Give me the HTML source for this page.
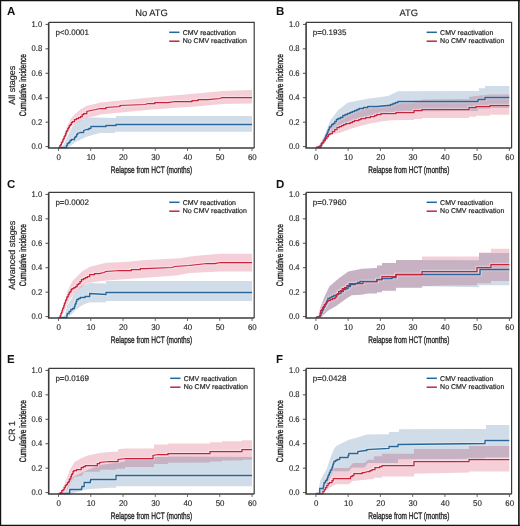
<!DOCTYPE html><html><head><meta charset="utf-8"><style>html,body{margin:0;padding:0;background:#fff}svg{display:block}text{font-family:"Liberation Sans",sans-serif;text-rendering:geometricPrecision}</style></head><body>
<svg width="520" height="526" viewBox="0 0 520 526">
<rect x="0" y="0" width="520" height="526" fill="#fff"/>
<g style="isolation:isolate">
<polygon points="62.0,147.3 65.0,142.0 67.5,136.3 72.5,126.3 78.8,121.3 87.5,117.5 96.0,117.6 116.0,118.0 116.0,116.0 252.0,116.0 252.0,131.7 115.0,131.7 115.0,133.0 100.0,133.0 90.9,135.5 85.8,137.1 79.6,140.1 74.5,142.7 69.3,147.0 67.0,147.3" fill="#d0dce7" style="mix-blend-mode:multiply"/>
<polygon points="59.5,147.3 62.2,139.1 66.3,127.8 70.4,119.6 74.5,114.5 80.6,109.3 86.8,105.8 96.0,103.7 100.0,102.5 150.0,97.5 202.0,93.0 222.0,91.0 252.0,90.0 252.0,103.5 222.0,104.0 202.0,106.0 152.0,109.5 100.0,114.5 96.0,116.0 89.9,117.0 83.7,119.1 76.5,123.2 71.4,126.8 66.3,137.1 61.1,147.3" fill="#f4cfd7" style="mix-blend-mode:multiply"/>
</g>
<polyline points="58.5,147.5 65.8,147.5 66.5,147.5 66.5,145.5 67.3,145.5 67.3,143.5 68.7,143.5 68.7,142.5 70.0,142.5 70.0,140.5 71.4,140.5 71.4,139.5 74.5,139.5 74.5,137.5 75.5,137.5 75.5,136.5 76.6,136.5 76.6,134.5 77.6,134.5 77.6,133.5 80.6,132.5 83.7,132.5 83.7,130.5 86.8,129.5 88.8,129.5 88.8,128.5 90.9,128.5 90.9,126.5 106.0,126.5 106.0,125.5 116.0,125.5 116.0,124.5 252.0,124.5" fill="none" stroke="#fff" stroke-opacity="0.3" stroke-width="3.6"/>
<polyline points="58.5,147.5 59.1,147.5 59.9,147.5 59.9,145.5 60.7,145.5 60.7,144.5 61.4,144.5 61.4,142.5 62.2,142.5 62.2,141.5 62.9,141.5 62.9,139.5 63.6,139.5 63.6,138.5 64.2,138.5 64.2,136.5 64.9,136.5 64.9,135.5 65.6,135.5 65.6,133.5 66.3,133.5 66.3,131.5 67.0,131.5 67.0,130.5 67.8,130.5 67.8,128.5 68.5,128.5 68.5,127.5 69.3,127.5 69.3,125.5 70.3,125.5 70.3,124.5 71.4,124.5 71.4,122.5 72.4,122.5 72.4,121.5 74.5,121.5 74.5,119.5 76.5,119.5 76.5,118.5 78.5,118.5 78.5,117.5 80.6,117.5 80.6,116.5 82.2,116.5 82.2,114.5 83.7,114.5 83.7,113.5 86.8,113.5 86.8,111.5 90.9,110.5 96.0,109.5 100.0,108.5 106.0,108.5 106.0,107.5 120.0,106.5 120.0,105.5 145.0,104.5 148.0,103.5 150.2,103.5 150.2,103.5 152.5,103.5 152.5,103.5 154.8,103.5 154.8,102.5 157.0,102.5 157.0,102.5 168.0,102.5 175.0,101.5 190.0,101.5 192.0,101.5 192.0,100.5 194.0,100.5 194.0,100.5 196.0,100.5 196.0,100.5 198.0,100.5 198.0,99.5 200.0,99.5 200.0,99.5 208.0,99.5 220.0,98.5 222.0,97.5 252.0,97.5" fill="none" stroke="#fff" stroke-opacity="0.3" stroke-width="3.6"/>
<polyline points="58.5,147.5 65.8,147.5 66.5,147.5 66.5,145.5 67.3,145.5 67.3,143.5 68.7,143.5 68.7,142.5 70.0,142.5 70.0,140.5 71.4,140.5 71.4,139.5 74.5,139.5 74.5,137.5 75.5,137.5 75.5,136.5 76.6,136.5 76.6,134.5 77.6,134.5 77.6,133.5 80.6,132.5 83.7,132.5 83.7,130.5 86.8,129.5 88.8,129.5 88.8,128.5 90.9,128.5 90.9,126.5 106.0,126.5 106.0,125.5 116.0,125.5 116.0,124.5 252.0,124.5" fill="none" stroke="#26669a" stroke-width="1.3" stroke-linejoin="miter"/>
<polyline points="58.5,147.5 59.1,147.5 59.9,147.5 59.9,145.5 60.7,145.5 60.7,144.5 61.4,144.5 61.4,142.5 62.2,142.5 62.2,141.5 62.9,141.5 62.9,139.5 63.6,139.5 63.6,138.5 64.2,138.5 64.2,136.5 64.9,136.5 64.9,135.5 65.6,135.5 65.6,133.5 66.3,133.5 66.3,131.5 67.0,131.5 67.0,130.5 67.8,130.5 67.8,128.5 68.5,128.5 68.5,127.5 69.3,127.5 69.3,125.5 70.3,125.5 70.3,124.5 71.4,124.5 71.4,122.5 72.4,122.5 72.4,121.5 74.5,121.5 74.5,119.5 76.5,119.5 76.5,118.5 78.5,118.5 78.5,117.5 80.6,117.5 80.6,116.5 82.2,116.5 82.2,114.5 83.7,114.5 83.7,113.5 86.8,113.5 86.8,111.5 90.9,110.5 96.0,109.5 100.0,108.5 106.0,108.5 106.0,107.5 120.0,106.5 120.0,105.5 145.0,104.5 148.0,103.5 150.2,103.5 150.2,103.5 152.5,103.5 152.5,103.5 154.8,103.5 154.8,102.5 157.0,102.5 157.0,102.5 168.0,102.5 175.0,101.5 190.0,101.5 192.0,101.5 192.0,100.5 194.0,100.5 194.0,100.5 196.0,100.5 196.0,100.5 198.0,100.5 198.0,99.5 200.0,99.5 200.0,99.5 208.0,99.5 220.0,98.5 222.0,97.5 252.0,97.5" fill="none" stroke="#c8233b" stroke-width="1.25" stroke-linejoin="miter"/>
<path d="M48.70 22.40 V148.00 H254.20" fill="none" stroke="#3c3c3c" stroke-width="1.6"/>
<path d="M48.70 22.40 H254.20 V148.00" fill="none" stroke="#3c3c3c" stroke-width="1.2"/>
<line x1="45.50" y1="146.60" x2="48.50" y2="146.60" stroke="#3c3c3c" stroke-width="0.9"/>
<text transform="translate(42.20 149.10) scale(0.92 1)" font-size="8.3" fill="#262626" stroke="#333" stroke-width="0.15" text-anchor="end">0.0</text>
<line x1="45.50" y1="122.16" x2="48.50" y2="122.16" stroke="#3c3c3c" stroke-width="0.9"/>
<text transform="translate(42.20 124.66) scale(0.92 1)" font-size="8.3" fill="#262626" stroke="#333" stroke-width="0.15" text-anchor="end">0.2</text>
<line x1="45.50" y1="97.72" x2="48.50" y2="97.72" stroke="#3c3c3c" stroke-width="0.9"/>
<text transform="translate(42.20 100.22) scale(0.92 1)" font-size="8.3" fill="#262626" stroke="#333" stroke-width="0.15" text-anchor="end">0.4</text>
<line x1="45.50" y1="73.28" x2="48.50" y2="73.28" stroke="#3c3c3c" stroke-width="0.9"/>
<text transform="translate(42.20 75.78) scale(0.92 1)" font-size="8.3" fill="#262626" stroke="#333" stroke-width="0.15" text-anchor="end">0.6</text>
<line x1="45.50" y1="48.84" x2="48.50" y2="48.84" stroke="#3c3c3c" stroke-width="0.9"/>
<text transform="translate(42.20 51.34) scale(0.92 1)" font-size="8.3" fill="#262626" stroke="#333" stroke-width="0.15" text-anchor="end">0.8</text>
<line x1="45.50" y1="24.40" x2="48.50" y2="24.40" stroke="#3c3c3c" stroke-width="0.9"/>
<text transform="translate(42.20 26.90) scale(0.92 1)" font-size="8.3" fill="#262626" stroke="#333" stroke-width="0.15" text-anchor="end">1.0</text>
<line x1="58.50" y1="148.50" x2="58.50" y2="150.90" stroke="#3c3c3c" stroke-width="0.8"/>
<text transform="translate(58.80 159.90) scale(0.95 1)" font-size="8.3" fill="#262626" stroke="#333" stroke-width="0.15" text-anchor="middle">0</text>
<line x1="90.75" y1="148.50" x2="90.75" y2="150.90" stroke="#3c3c3c" stroke-width="0.8"/>
<text transform="translate(91.05 159.90) scale(0.95 1)" font-size="8.3" fill="#262626" stroke="#333" stroke-width="0.15" text-anchor="middle">10</text>
<line x1="123.00" y1="148.50" x2="123.00" y2="150.90" stroke="#3c3c3c" stroke-width="0.8"/>
<text transform="translate(123.30 159.90) scale(0.95 1)" font-size="8.3" fill="#262626" stroke="#333" stroke-width="0.15" text-anchor="middle">20</text>
<line x1="155.25" y1="148.50" x2="155.25" y2="150.90" stroke="#3c3c3c" stroke-width="0.8"/>
<text transform="translate(155.55 159.90) scale(0.95 1)" font-size="8.3" fill="#262626" stroke="#333" stroke-width="0.15" text-anchor="middle">30</text>
<line x1="187.50" y1="148.50" x2="187.50" y2="150.90" stroke="#3c3c3c" stroke-width="0.8"/>
<text transform="translate(187.80 159.90) scale(0.95 1)" font-size="8.3" fill="#262626" stroke="#333" stroke-width="0.15" text-anchor="middle">40</text>
<line x1="219.75" y1="148.50" x2="219.75" y2="150.90" stroke="#3c3c3c" stroke-width="0.8"/>
<text transform="translate(220.05 159.90) scale(0.95 1)" font-size="8.3" fill="#262626" stroke="#333" stroke-width="0.15" text-anchor="middle">50</text>
<line x1="252.00" y1="148.50" x2="252.00" y2="150.90" stroke="#3c3c3c" stroke-width="0.8"/>
<text transform="translate(252.30 159.90) scale(0.95 1)" font-size="8.3" fill="#262626" stroke="#333" stroke-width="0.15" text-anchor="middle">60</text>
<text transform="translate(151.45 173.30) scale(0.685 1)" font-size="9.5" fill="#262626" stroke="#222" stroke-width="0.35" text-anchor="middle">Relapse from HCT (months)</text>
<text transform="translate(26.30 85.20) rotate(-90) scale(0.69 1)" font-size="9.5" fill="#262626" stroke="#222" stroke-width="0.35" text-anchor="middle">Cumulative incidence</text>
<text transform="translate(15.20 85.20) rotate(-90)" font-size="9" fill="#262626" stroke="#333" stroke-width="0.2" text-anchor="middle">All stages</text>
<text x="6.90" y="15.00" font-size="11.5" font-weight="bold" fill="#111">A</text>
<text x="55.40" y="34.90" font-size="8" fill="#262626" stroke="#222" stroke-width="0.15">p<0.0001</text>
<line x1="169.20" y1="32.30" x2="179.50" y2="32.30" stroke="#26669a" stroke-width="1.5"/>
<line x1="169.20" y1="41.20" x2="179.50" y2="41.20" stroke="#c8233b" stroke-width="1.5"/>
<text x="182.70" y="34.50" font-size="7" fill="#262626" stroke="#222" stroke-width="0.2">CMV reactivation</text>
<text x="182.70" y="43.40" font-size="7" fill="#262626" stroke="#222" stroke-width="0.2">No CMV reactivation</text>
<g style="isolation:isolate">
<polygon points="319.0,147.3 324.3,135.5 330.0,121.0 338.0,110.2 347.5,102.8 357.0,100.8 367.7,98.7 377.0,97.4 388.0,96.0 398.0,91.3 479.0,91.0 479.0,88.3 485.0,88.3 485.0,86.0 509.3,86.0 509.3,108.0 490.0,108.0 490.0,108.8 478.0,108.8 478.0,111.0 406.0,111.5 381.0,113.0 370.4,116.0 361.0,118.0 350.2,121.5 339.4,126.0 330.0,133.0 326.3,137.0 322.0,147.3" fill="#d0dce7" style="mix-blend-mode:multiply"/>
<polygon points="317.0,147.3 322.0,140.5 330.0,127.0 339.4,116.9 350.2,112.2 361.0,108.8 370.4,107.5 383.8,104.8 400.0,102.8 415.0,102.5 415.0,100.5 422.0,100.5 422.0,99.5 456.0,99.0 469.0,99.0 469.0,97.0 478.0,95.8 490.0,94.5 509.3,94.5 509.3,114.7 490.0,114.7 490.0,115.7 476.0,115.7 476.0,116.8 469.0,116.8 469.0,118.0 422.0,118.0 422.0,119.0 414.0,119.0 414.0,120.0 390.6,120.3 381.0,121.6 370.4,123.6 361.0,125.7 350.2,129.0 339.4,133.0 330.0,135.0 325.3,142.0 320.2,147.3" fill="#f4cfd7" style="mix-blend-mode:multiply"/>
</g>
<polyline points="315.8,147.5 320.0,147.5 320.9,147.5 320.9,145.5 321.7,145.5 321.7,143.5 322.6,143.5 322.6,142.5 323.4,142.5 323.4,140.5 324.3,140.5 324.3,139.5 325.1,139.5 325.1,137.5 325.8,137.5 325.8,135.5 326.6,135.5 326.6,134.5 327.3,134.5 327.3,132.5 328.0,132.5 328.0,130.5 328.6,130.5 328.6,129.5 329.3,129.5 329.3,127.5 330.0,127.5 330.0,126.5 331.6,126.5 331.6,124.5 333.2,124.5 333.2,123.5 334.8,123.5 334.8,121.5 336.4,121.5 336.4,119.5 338.0,119.5 338.0,118.5 340.4,118.5 340.4,117.5 342.8,117.5 342.8,115.5 345.1,115.5 345.1,114.5 347.5,114.5 347.5,113.5 349.9,113.5 349.9,112.5 352.2,112.5 352.2,111.5 354.6,111.5 354.6,110.5 357.0,110.5 357.0,109.5 359.1,109.5 359.1,108.5 361.3,108.5 361.3,108.5 363.4,108.5 363.4,107.5 365.6,107.5 365.6,107.5 367.7,107.5 367.7,106.5 377.0,106.5 388.0,105.5 390.5,105.5 390.5,104.5 393.0,104.5 393.0,103.5 395.5,103.5 395.5,102.5 398.0,102.5 398.0,101.5 478.0,101.5 478.0,99.5 485.0,99.5 485.0,97.5 509.3,97.5" fill="none" stroke="#fff" stroke-opacity="0.3" stroke-width="3.6"/>
<polyline points="315.8,147.5 319.1,146.5 320.1,146.5 320.1,145.5 321.2,145.5 321.2,143.5 322.2,143.5 322.2,142.5 323.8,142.5 323.8,140.5 325.3,140.5 325.3,138.5 326.9,138.5 326.9,136.5 328.4,136.5 328.4,134.5 330.0,134.5 330.0,133.5 332.4,133.5 332.4,131.5 334.7,131.5 334.7,129.5 337.0,129.5 337.0,127.5 339.4,127.5 339.4,126.5 341.6,126.5 341.6,125.5 343.7,125.5 343.7,124.5 345.9,124.5 345.9,123.5 348.0,123.5 348.0,123.5 350.2,123.5 350.2,122.5 352.4,122.5 352.4,121.5 354.5,121.5 354.5,120.5 356.7,120.5 356.7,120.5 358.8,120.5 358.8,119.5 361.0,119.5 361.0,118.5 363.4,118.5 363.4,118.5 365.7,118.5 365.7,117.5 368.0,117.5 368.0,117.5 370.4,117.5 370.4,116.5 372.5,116.5 372.5,116.5 374.6,116.5 374.6,115.5 376.8,115.5 376.8,114.5 378.9,114.5 378.9,114.5 381.0,114.5 381.0,113.5 396.0,113.5 396.0,112.5 414.0,112.5 414.0,110.5 422.0,110.5 422.0,109.5 469.0,109.5 469.0,107.5 476.0,107.5 476.0,106.5 490.0,106.5 490.0,105.5 509.3,105.5" fill="none" stroke="#fff" stroke-opacity="0.3" stroke-width="3.6"/>
<polyline points="315.8,147.5 320.0,147.5 320.9,147.5 320.9,145.5 321.7,145.5 321.7,143.5 322.6,143.5 322.6,142.5 323.4,142.5 323.4,140.5 324.3,140.5 324.3,139.5 325.1,139.5 325.1,137.5 325.8,137.5 325.8,135.5 326.6,135.5 326.6,134.5 327.3,134.5 327.3,132.5 328.0,132.5 328.0,130.5 328.6,130.5 328.6,129.5 329.3,129.5 329.3,127.5 330.0,127.5 330.0,126.5 331.6,126.5 331.6,124.5 333.2,124.5 333.2,123.5 334.8,123.5 334.8,121.5 336.4,121.5 336.4,119.5 338.0,119.5 338.0,118.5 340.4,118.5 340.4,117.5 342.8,117.5 342.8,115.5 345.1,115.5 345.1,114.5 347.5,114.5 347.5,113.5 349.9,113.5 349.9,112.5 352.2,112.5 352.2,111.5 354.6,111.5 354.6,110.5 357.0,110.5 357.0,109.5 359.1,109.5 359.1,108.5 361.3,108.5 361.3,108.5 363.4,108.5 363.4,107.5 365.6,107.5 365.6,107.5 367.7,107.5 367.7,106.5 377.0,106.5 388.0,105.5 390.5,105.5 390.5,104.5 393.0,104.5 393.0,103.5 395.5,103.5 395.5,102.5 398.0,102.5 398.0,101.5 478.0,101.5 478.0,99.5 485.0,99.5 485.0,97.5 509.3,97.5" fill="none" stroke="#26669a" stroke-width="1.3" stroke-linejoin="miter"/>
<polyline points="315.8,147.5 319.1,146.5 320.1,146.5 320.1,145.5 321.2,145.5 321.2,143.5 322.2,143.5 322.2,142.5 323.8,142.5 323.8,140.5 325.3,140.5 325.3,138.5 326.9,138.5 326.9,136.5 328.4,136.5 328.4,134.5 330.0,134.5 330.0,133.5 332.4,133.5 332.4,131.5 334.7,131.5 334.7,129.5 337.0,129.5 337.0,127.5 339.4,127.5 339.4,126.5 341.6,126.5 341.6,125.5 343.7,125.5 343.7,124.5 345.9,124.5 345.9,123.5 348.0,123.5 348.0,123.5 350.2,123.5 350.2,122.5 352.4,122.5 352.4,121.5 354.5,121.5 354.5,120.5 356.7,120.5 356.7,120.5 358.8,120.5 358.8,119.5 361.0,119.5 361.0,118.5 363.4,118.5 363.4,118.5 365.7,118.5 365.7,117.5 368.0,117.5 368.0,117.5 370.4,117.5 370.4,116.5 372.5,116.5 372.5,116.5 374.6,116.5 374.6,115.5 376.8,115.5 376.8,114.5 378.9,114.5 378.9,114.5 381.0,114.5 381.0,113.5 396.0,113.5 396.0,112.5 414.0,112.5 414.0,110.5 422.0,110.5 422.0,109.5 469.0,109.5 469.0,107.5 476.0,107.5 476.0,106.5 490.0,106.5 490.0,105.5 509.3,105.5" fill="none" stroke="#c8233b" stroke-width="1.25" stroke-linejoin="miter"/>
<path d="M306.10 22.40 V148.00 H511.60" fill="none" stroke="#3c3c3c" stroke-width="1.6"/>
<path d="M306.10 22.40 H511.60 V148.00" fill="none" stroke="#3c3c3c" stroke-width="1.2"/>
<line x1="302.90" y1="146.60" x2="305.90" y2="146.60" stroke="#3c3c3c" stroke-width="0.9"/>
<text transform="translate(299.60 149.10) scale(0.92 1)" font-size="8.3" fill="#262626" stroke="#333" stroke-width="0.15" text-anchor="end">0.0</text>
<line x1="302.90" y1="122.16" x2="305.90" y2="122.16" stroke="#3c3c3c" stroke-width="0.9"/>
<text transform="translate(299.60 124.66) scale(0.92 1)" font-size="8.3" fill="#262626" stroke="#333" stroke-width="0.15" text-anchor="end">0.2</text>
<line x1="302.90" y1="97.72" x2="305.90" y2="97.72" stroke="#3c3c3c" stroke-width="0.9"/>
<text transform="translate(299.60 100.22) scale(0.92 1)" font-size="8.3" fill="#262626" stroke="#333" stroke-width="0.15" text-anchor="end">0.4</text>
<line x1="302.90" y1="73.28" x2="305.90" y2="73.28" stroke="#3c3c3c" stroke-width="0.9"/>
<text transform="translate(299.60 75.78) scale(0.92 1)" font-size="8.3" fill="#262626" stroke="#333" stroke-width="0.15" text-anchor="end">0.6</text>
<line x1="302.90" y1="48.84" x2="305.90" y2="48.84" stroke="#3c3c3c" stroke-width="0.9"/>
<text transform="translate(299.60 51.34) scale(0.92 1)" font-size="8.3" fill="#262626" stroke="#333" stroke-width="0.15" text-anchor="end">0.8</text>
<line x1="302.90" y1="24.40" x2="305.90" y2="24.40" stroke="#3c3c3c" stroke-width="0.9"/>
<text transform="translate(299.60 26.90) scale(0.92 1)" font-size="8.3" fill="#262626" stroke="#333" stroke-width="0.15" text-anchor="end">1.0</text>
<line x1="315.90" y1="148.50" x2="315.90" y2="150.90" stroke="#3c3c3c" stroke-width="0.8"/>
<text transform="translate(316.20 159.90) scale(0.95 1)" font-size="8.3" fill="#262626" stroke="#333" stroke-width="0.15" text-anchor="middle">0</text>
<line x1="348.15" y1="148.50" x2="348.15" y2="150.90" stroke="#3c3c3c" stroke-width="0.8"/>
<text transform="translate(348.45 159.90) scale(0.95 1)" font-size="8.3" fill="#262626" stroke="#333" stroke-width="0.15" text-anchor="middle">10</text>
<line x1="380.40" y1="148.50" x2="380.40" y2="150.90" stroke="#3c3c3c" stroke-width="0.8"/>
<text transform="translate(380.70 159.90) scale(0.95 1)" font-size="8.3" fill="#262626" stroke="#333" stroke-width="0.15" text-anchor="middle">20</text>
<line x1="412.65" y1="148.50" x2="412.65" y2="150.90" stroke="#3c3c3c" stroke-width="0.8"/>
<text transform="translate(412.95 159.90) scale(0.95 1)" font-size="8.3" fill="#262626" stroke="#333" stroke-width="0.15" text-anchor="middle">30</text>
<line x1="444.90" y1="148.50" x2="444.90" y2="150.90" stroke="#3c3c3c" stroke-width="0.8"/>
<text transform="translate(445.20 159.90) scale(0.95 1)" font-size="8.3" fill="#262626" stroke="#333" stroke-width="0.15" text-anchor="middle">40</text>
<line x1="477.15" y1="148.50" x2="477.15" y2="150.90" stroke="#3c3c3c" stroke-width="0.8"/>
<text transform="translate(477.45 159.90) scale(0.95 1)" font-size="8.3" fill="#262626" stroke="#333" stroke-width="0.15" text-anchor="middle">50</text>
<line x1="509.40" y1="148.50" x2="509.40" y2="150.90" stroke="#3c3c3c" stroke-width="0.8"/>
<text transform="translate(509.70 159.90) scale(0.95 1)" font-size="8.3" fill="#262626" stroke="#333" stroke-width="0.15" text-anchor="middle">60</text>
<text transform="translate(408.85 173.30) scale(0.685 1)" font-size="9.5" fill="#262626" stroke="#222" stroke-width="0.35" text-anchor="middle">Relapse from HCT (months)</text>
<text transform="translate(282.70 85.20) rotate(-90) scale(0.69 1)" font-size="9.5" fill="#262626" stroke="#222" stroke-width="0.35" text-anchor="middle">Cumulative incidence</text>
<text x="276.00" y="15.00" font-size="11.5" font-weight="bold" fill="#111">B</text>
<text x="312.80" y="34.90" font-size="8" fill="#262626" stroke="#222" stroke-width="0.15">p=0.1935</text>
<line x1="426.60" y1="32.30" x2="436.90" y2="32.30" stroke="#26669a" stroke-width="1.5"/>
<line x1="426.60" y1="41.20" x2="436.90" y2="41.20" stroke="#c8233b" stroke-width="1.5"/>
<text x="440.10" y="34.50" font-size="7" fill="#262626" stroke="#222" stroke-width="0.2">CMV reactivation</text>
<text x="440.10" y="43.40" font-size="7" fill="#262626" stroke="#222" stroke-width="0.2">No CMV reactivation</text>
<g style="isolation:isolate">
<polygon points="64.0,317.3 67.3,305.5 75.6,291.4 81.5,286.0 89.7,282.9 106.0,283.5 106.0,281.0 252.0,281.0 252.0,301.0 106.0,301.0 106.0,302.2 88.6,302.6 81.5,305.5 75.6,310.2 69.7,316.1 68.0,317.3" fill="#d0dce7" style="mix-blend-mode:multiply"/>
<polygon points="62.0,317.3 67.1,291.7 72.5,281.0 81.9,271.5 90.0,266.8 106.1,262.8 125.0,262.1 145.0,260.0 180.0,258.2 190.0,256.6 205.0,255.0 220.0,253.8 252.0,253.8 252.0,271.5 220.0,271.5 190.0,273.0 176.0,275.4 145.0,277.7 104.0,280.8 87.4,283.1 76.8,290.2 69.7,299.6 63.8,312.6 61.5,317.3" fill="#f4cfd7" style="mix-blend-mode:multiply"/>
</g>
<polyline points="58.5,317.5 66.7,317.5 66.9,317.5 66.9,315.5 67.1,315.5 67.1,314.5 67.3,314.5 67.3,313.5 69.1,313.5 69.1,311.5 70.8,311.5 70.8,309.5 72.6,309.5 72.6,308.5 74.4,308.5 74.4,306.5 75.0,306.5 75.0,304.5 75.6,304.5 75.6,303.5 76.2,303.5 76.2,301.5 76.8,301.5 76.8,299.5 78.5,299.5 78.5,298.5 80.3,298.5 80.3,297.5 82.7,297.5 82.7,297.5 85.0,297.5 85.0,296.5 87.4,296.5 87.4,296.5 89.7,296.5 89.7,293.5 106.0,294.5 106.0,292.5 252.0,292.5" fill="none" stroke="#fff" stroke-opacity="0.3" stroke-width="3.6"/>
<polyline points="58.5,317.5 59.7,317.5 60.3,317.5 60.3,315.5 60.9,315.5 60.9,313.5 61.5,313.5 61.5,312.5 62.0,312.5 62.0,310.5 62.6,310.5 62.6,308.5 63.2,308.5 63.2,307.5 63.8,307.5 63.8,305.5 64.4,305.5 64.4,303.5 65.0,303.5 65.0,302.5 65.5,302.5 65.5,300.5 66.1,300.5 66.1,299.5 66.7,299.5 66.7,297.5 67.3,297.5 67.3,296.5 68.2,296.5 68.2,294.5 69.2,294.5 69.2,292.5 70.1,292.5 70.1,291.5 71.1,291.5 71.1,289.5 72.0,289.5 72.0,288.5 73.8,288.5 73.8,287.5 75.6,287.5 75.6,286.5 77.1,286.5 77.1,284.5 78.5,284.5 78.5,283.5 80.0,283.5 80.0,281.5 81.5,281.5 81.5,279.5 83.5,279.5 83.5,278.5 85.4,278.5 85.4,277.5 87.4,277.5 87.4,276.5 89.7,276.5 89.7,274.5 92.1,274.5 92.1,274.5 94.5,274.5 94.5,273.5 96.8,273.5 96.8,273.5 99.2,273.5 99.2,273.5 104.0,272.5 106.0,271.5 120.0,270.5 129.0,270.5 131.3,270.5 131.3,269.5 133.6,269.5 133.6,269.5 135.9,269.5 135.9,269.5 138.1,269.5 138.1,269.5 140.4,269.5 140.4,268.5 142.7,268.5 142.7,268.5 145.0,268.5 145.0,268.5 172.0,267.5 175.0,266.5 189.0,265.5 198.0,264.5 207.0,263.5 215.0,263.5 220.0,262.5 252.0,262.5" fill="none" stroke="#fff" stroke-opacity="0.3" stroke-width="3.6"/>
<polyline points="58.5,317.5 66.7,317.5 66.9,317.5 66.9,315.5 67.1,315.5 67.1,314.5 67.3,314.5 67.3,313.5 69.1,313.5 69.1,311.5 70.8,311.5 70.8,309.5 72.6,309.5 72.6,308.5 74.4,308.5 74.4,306.5 75.0,306.5 75.0,304.5 75.6,304.5 75.6,303.5 76.2,303.5 76.2,301.5 76.8,301.5 76.8,299.5 78.5,299.5 78.5,298.5 80.3,298.5 80.3,297.5 82.7,297.5 82.7,297.5 85.0,297.5 85.0,296.5 87.4,296.5 87.4,296.5 89.7,296.5 89.7,293.5 106.0,294.5 106.0,292.5 252.0,292.5" fill="none" stroke="#26669a" stroke-width="1.3" stroke-linejoin="miter"/>
<polyline points="58.5,317.5 59.7,317.5 60.3,317.5 60.3,315.5 60.9,315.5 60.9,313.5 61.5,313.5 61.5,312.5 62.0,312.5 62.0,310.5 62.6,310.5 62.6,308.5 63.2,308.5 63.2,307.5 63.8,307.5 63.8,305.5 64.4,305.5 64.4,303.5 65.0,303.5 65.0,302.5 65.5,302.5 65.5,300.5 66.1,300.5 66.1,299.5 66.7,299.5 66.7,297.5 67.3,297.5 67.3,296.5 68.2,296.5 68.2,294.5 69.2,294.5 69.2,292.5 70.1,292.5 70.1,291.5 71.1,291.5 71.1,289.5 72.0,289.5 72.0,288.5 73.8,288.5 73.8,287.5 75.6,287.5 75.6,286.5 77.1,286.5 77.1,284.5 78.5,284.5 78.5,283.5 80.0,283.5 80.0,281.5 81.5,281.5 81.5,279.5 83.5,279.5 83.5,278.5 85.4,278.5 85.4,277.5 87.4,277.5 87.4,276.5 89.7,276.5 89.7,274.5 92.1,274.5 92.1,274.5 94.5,274.5 94.5,273.5 96.8,273.5 96.8,273.5 99.2,273.5 99.2,273.5 104.0,272.5 106.0,271.5 120.0,270.5 129.0,270.5 131.3,270.5 131.3,269.5 133.6,269.5 133.6,269.5 135.9,269.5 135.9,269.5 138.1,269.5 138.1,269.5 140.4,269.5 140.4,268.5 142.7,268.5 142.7,268.5 145.0,268.5 145.0,268.5 172.0,267.5 175.0,266.5 189.0,265.5 198.0,264.5 207.0,263.5 215.0,263.5 220.0,262.5 252.0,262.5" fill="none" stroke="#c8233b" stroke-width="1.25" stroke-linejoin="miter"/>
<path d="M48.70 192.40 V318.00 H254.20" fill="none" stroke="#3c3c3c" stroke-width="1.6"/>
<path d="M48.70 192.40 H254.20 V318.00" fill="none" stroke="#3c3c3c" stroke-width="1.2"/>
<line x1="45.50" y1="316.60" x2="48.50" y2="316.60" stroke="#3c3c3c" stroke-width="0.9"/>
<text transform="translate(42.20 319.10) scale(0.92 1)" font-size="8.3" fill="#262626" stroke="#333" stroke-width="0.15" text-anchor="end">0.0</text>
<line x1="45.50" y1="292.16" x2="48.50" y2="292.16" stroke="#3c3c3c" stroke-width="0.9"/>
<text transform="translate(42.20 294.66) scale(0.92 1)" font-size="8.3" fill="#262626" stroke="#333" stroke-width="0.15" text-anchor="end">0.2</text>
<line x1="45.50" y1="267.72" x2="48.50" y2="267.72" stroke="#3c3c3c" stroke-width="0.9"/>
<text transform="translate(42.20 270.22) scale(0.92 1)" font-size="8.3" fill="#262626" stroke="#333" stroke-width="0.15" text-anchor="end">0.4</text>
<line x1="45.50" y1="243.28" x2="48.50" y2="243.28" stroke="#3c3c3c" stroke-width="0.9"/>
<text transform="translate(42.20 245.78) scale(0.92 1)" font-size="8.3" fill="#262626" stroke="#333" stroke-width="0.15" text-anchor="end">0.6</text>
<line x1="45.50" y1="218.84" x2="48.50" y2="218.84" stroke="#3c3c3c" stroke-width="0.9"/>
<text transform="translate(42.20 221.34) scale(0.92 1)" font-size="8.3" fill="#262626" stroke="#333" stroke-width="0.15" text-anchor="end">0.8</text>
<line x1="45.50" y1="194.40" x2="48.50" y2="194.40" stroke="#3c3c3c" stroke-width="0.9"/>
<text transform="translate(42.20 196.90) scale(0.92 1)" font-size="8.3" fill="#262626" stroke="#333" stroke-width="0.15" text-anchor="end">1.0</text>
<line x1="58.50" y1="318.50" x2="58.50" y2="320.90" stroke="#3c3c3c" stroke-width="0.8"/>
<text transform="translate(58.80 329.90) scale(0.95 1)" font-size="8.3" fill="#262626" stroke="#333" stroke-width="0.15" text-anchor="middle">0</text>
<line x1="90.75" y1="318.50" x2="90.75" y2="320.90" stroke="#3c3c3c" stroke-width="0.8"/>
<text transform="translate(91.05 329.90) scale(0.95 1)" font-size="8.3" fill="#262626" stroke="#333" stroke-width="0.15" text-anchor="middle">10</text>
<line x1="123.00" y1="318.50" x2="123.00" y2="320.90" stroke="#3c3c3c" stroke-width="0.8"/>
<text transform="translate(123.30 329.90) scale(0.95 1)" font-size="8.3" fill="#262626" stroke="#333" stroke-width="0.15" text-anchor="middle">20</text>
<line x1="155.25" y1="318.50" x2="155.25" y2="320.90" stroke="#3c3c3c" stroke-width="0.8"/>
<text transform="translate(155.55 329.90) scale(0.95 1)" font-size="8.3" fill="#262626" stroke="#333" stroke-width="0.15" text-anchor="middle">30</text>
<line x1="187.50" y1="318.50" x2="187.50" y2="320.90" stroke="#3c3c3c" stroke-width="0.8"/>
<text transform="translate(187.80 329.90) scale(0.95 1)" font-size="8.3" fill="#262626" stroke="#333" stroke-width="0.15" text-anchor="middle">40</text>
<line x1="219.75" y1="318.50" x2="219.75" y2="320.90" stroke="#3c3c3c" stroke-width="0.8"/>
<text transform="translate(220.05 329.90) scale(0.95 1)" font-size="8.3" fill="#262626" stroke="#333" stroke-width="0.15" text-anchor="middle">50</text>
<line x1="252.00" y1="318.50" x2="252.00" y2="320.90" stroke="#3c3c3c" stroke-width="0.8"/>
<text transform="translate(252.30 329.90) scale(0.95 1)" font-size="8.3" fill="#262626" stroke="#333" stroke-width="0.15" text-anchor="middle">60</text>
<text transform="translate(151.45 343.30) scale(0.685 1)" font-size="9.5" fill="#262626" stroke="#222" stroke-width="0.35" text-anchor="middle">Relapse from HCT (months)</text>
<text transform="translate(26.30 255.20) rotate(-90) scale(0.69 1)" font-size="9.5" fill="#262626" stroke="#222" stroke-width="0.35" text-anchor="middle">Cumulative incidence</text>
<text transform="translate(15.20 255.20) rotate(-90)" font-size="9" fill="#262626" stroke="#333" stroke-width="0.2" text-anchor="middle">Advanced stages</text>
<text x="6.90" y="188.40" font-size="11.5" font-weight="bold" fill="#111">C</text>
<text x="55.40" y="204.90" font-size="8" fill="#262626" stroke="#222" stroke-width="0.15">p=0.0002</text>
<line x1="169.20" y1="202.30" x2="179.50" y2="202.30" stroke="#26669a" stroke-width="1.5"/>
<line x1="169.20" y1="211.20" x2="179.50" y2="211.20" stroke="#c8233b" stroke-width="1.5"/>
<text x="182.70" y="204.50" font-size="7" fill="#262626" stroke="#222" stroke-width="0.2">CMV reactivation</text>
<text x="182.70" y="213.40" font-size="7" fill="#262626" stroke="#222" stroke-width="0.2">No CMV reactivation</text>
<g style="isolation:isolate">
<polygon points="318.0,317.4 320.0,308.0 325.5,294.4 329.5,286.3 338.9,278.3 348.3,271.5 361.8,268.8 377.0,268.0 377.0,265.4 382.0,265.4 382.0,263.0 396.0,263.0 396.0,260.0 479.0,260.3 479.0,253.1 509.3,253.1 509.3,285.2 479.0,285.2 479.0,287.2 444.0,286.5 422.0,286.2 422.0,287.7 396.0,287.7 396.0,290.8 382.0,290.8 382.0,292.3 377.0,292.3 377.0,293.5 368.0,293.5 361.3,294.7 351.7,295.3 345.8,298.9 336.2,306.0 327.9,310.8 322.0,316.8 320.0,317.4" fill="#d0dce7" style="mix-blend-mode:multiply"/>
<polygon points="318.0,317.4 320.0,308.0 325.5,294.4 329.5,286.3 338.9,278.3 348.3,271.5 361.8,268.8 377.0,268.0 377.0,265.4 382.0,265.4 382.0,263.0 396.0,263.0 396.0,260.0 422.0,260.0 422.0,256.6 479.0,256.6 479.0,252.6 491.0,252.6 491.0,248.8 509.3,248.8 509.3,281.1 491.0,281.1 491.0,283.2 477.0,283.2 477.0,285.2 444.0,285.5 422.0,286.2 422.0,287.7 396.0,287.7 396.0,290.8 382.0,290.8 382.0,292.3 377.0,292.3 377.0,293.5 368.0,293.5 361.3,294.7 351.7,295.3 345.8,298.9 336.2,306.0 327.9,310.8 322.0,316.8 320.0,317.4" fill="#f4cfd7" style="mix-blend-mode:multiply"/>
</g>
<polyline points="315.8,317.5 319.5,316.5 320.2,316.5 320.2,315.5 320.9,315.5 320.9,313.5 321.6,313.5 321.6,312.5 322.2,312.5 322.2,310.5 322.9,310.5 322.9,309.5 323.6,309.5 323.6,307.5 324.3,307.5 324.3,306.5 325.2,306.5 325.2,304.5 326.1,304.5 326.1,302.5 327.0,302.5 327.0,300.5 327.9,300.5 327.9,298.5 329.9,298.5 329.9,297.5 331.8,297.5 331.8,296.5 333.8,296.5 333.8,295.5 336.2,295.5 336.2,294.5 338.6,294.5 338.6,293.5 341.0,293.5 341.0,291.5 343.4,291.5 343.4,289.5 345.8,289.5 345.8,288.5 348.1,288.5 348.1,286.5 350.5,286.5 350.5,284.5 352.9,284.5 355.3,284.5 355.3,283.5 357.6,283.5 357.6,282.5 360.0,282.5 360.0,281.5 377.0,281.5 377.0,279.5 382.0,279.5 382.0,278.5 392.0,278.5 392.0,277.5 396.0,277.5 396.0,274.5 480.0,274.5 480.0,269.5 509.3,269.5" fill="none" stroke="#fff" stroke-opacity="0.3" stroke-width="3.6"/>
<polyline points="315.8,317.5 319.5,316.5 319.8,316.5 319.8,315.5 320.1,315.5 320.1,313.5 320.4,313.5 320.4,312.5 320.7,312.5 320.7,310.5 321.6,310.5 321.6,309.5 322.5,309.5 322.5,307.5 323.4,307.5 323.4,306.5 324.3,306.5 324.3,304.5 325.5,304.5 325.5,303.5 326.7,303.5 326.7,301.5 327.9,301.5 327.9,300.5 330.3,300.5 330.3,299.5 332.6,299.5 332.6,298.5 335.0,298.5 335.0,297.5 335.9,297.5 335.9,296.5 336.8,296.5 336.8,294.5 337.7,294.5 337.7,293.5 338.6,293.5 338.6,291.5 340.4,291.5 340.4,290.5 342.2,290.5 342.2,288.5 344.6,288.5 344.6,287.5 346.9,287.5 346.9,285.5 349.3,285.5 349.3,283.5 362.4,283.5 363.0,283.5 363.0,281.5 377.0,281.5 377.0,279.5 382.0,279.5 382.0,276.5 396.0,276.5 396.0,274.5 422.0,274.5 422.0,271.5 444.0,271.5 477.0,271.5 477.0,267.5 491.0,267.5 491.0,264.5 509.3,264.5" fill="none" stroke="#fff" stroke-opacity="0.3" stroke-width="3.6"/>
<polyline points="315.8,317.5 319.5,316.5 320.2,316.5 320.2,315.5 320.9,315.5 320.9,313.5 321.6,313.5 321.6,312.5 322.2,312.5 322.2,310.5 322.9,310.5 322.9,309.5 323.6,309.5 323.6,307.5 324.3,307.5 324.3,306.5 325.2,306.5 325.2,304.5 326.1,304.5 326.1,302.5 327.0,302.5 327.0,300.5 327.9,300.5 327.9,298.5 329.9,298.5 329.9,297.5 331.8,297.5 331.8,296.5 333.8,296.5 333.8,295.5 336.2,295.5 336.2,294.5 338.6,294.5 338.6,293.5 341.0,293.5 341.0,291.5 343.4,291.5 343.4,289.5 345.8,289.5 345.8,288.5 348.1,288.5 348.1,286.5 350.5,286.5 350.5,284.5 352.9,284.5 355.3,284.5 355.3,283.5 357.6,283.5 357.6,282.5 360.0,282.5 360.0,281.5 377.0,281.5 377.0,279.5 382.0,279.5 382.0,278.5 392.0,278.5 392.0,277.5 396.0,277.5 396.0,274.5 480.0,274.5 480.0,269.5 509.3,269.5" fill="none" stroke="#26669a" stroke-width="1.3" stroke-linejoin="miter"/>
<polyline points="315.8,317.5 319.5,316.5 319.8,316.5 319.8,315.5 320.1,315.5 320.1,313.5 320.4,313.5 320.4,312.5 320.7,312.5 320.7,310.5 321.6,310.5 321.6,309.5 322.5,309.5 322.5,307.5 323.4,307.5 323.4,306.5 324.3,306.5 324.3,304.5 325.5,304.5 325.5,303.5 326.7,303.5 326.7,301.5 327.9,301.5 327.9,300.5 330.3,300.5 330.3,299.5 332.6,299.5 332.6,298.5 335.0,298.5 335.0,297.5 335.9,297.5 335.9,296.5 336.8,296.5 336.8,294.5 337.7,294.5 337.7,293.5 338.6,293.5 338.6,291.5 340.4,291.5 340.4,290.5 342.2,290.5 342.2,288.5 344.6,288.5 344.6,287.5 346.9,287.5 346.9,285.5 349.3,285.5 349.3,283.5 362.4,283.5 363.0,283.5 363.0,281.5 377.0,281.5 377.0,279.5 382.0,279.5 382.0,276.5 396.0,276.5 396.0,274.5 422.0,274.5 422.0,271.5 444.0,271.5 477.0,271.5 477.0,267.5 491.0,267.5 491.0,264.5 509.3,264.5" fill="none" stroke="#c8233b" stroke-width="1.25" stroke-linejoin="miter"/>
<path d="M306.10 192.40 V318.00 H511.60" fill="none" stroke="#3c3c3c" stroke-width="1.6"/>
<path d="M306.10 192.40 H511.60 V318.00" fill="none" stroke="#3c3c3c" stroke-width="1.2"/>
<line x1="302.90" y1="316.60" x2="305.90" y2="316.60" stroke="#3c3c3c" stroke-width="0.9"/>
<text transform="translate(299.60 319.10) scale(0.92 1)" font-size="8.3" fill="#262626" stroke="#333" stroke-width="0.15" text-anchor="end">0.0</text>
<line x1="302.90" y1="292.16" x2="305.90" y2="292.16" stroke="#3c3c3c" stroke-width="0.9"/>
<text transform="translate(299.60 294.66) scale(0.92 1)" font-size="8.3" fill="#262626" stroke="#333" stroke-width="0.15" text-anchor="end">0.2</text>
<line x1="302.90" y1="267.72" x2="305.90" y2="267.72" stroke="#3c3c3c" stroke-width="0.9"/>
<text transform="translate(299.60 270.22) scale(0.92 1)" font-size="8.3" fill="#262626" stroke="#333" stroke-width="0.15" text-anchor="end">0.4</text>
<line x1="302.90" y1="243.28" x2="305.90" y2="243.28" stroke="#3c3c3c" stroke-width="0.9"/>
<text transform="translate(299.60 245.78) scale(0.92 1)" font-size="8.3" fill="#262626" stroke="#333" stroke-width="0.15" text-anchor="end">0.6</text>
<line x1="302.90" y1="218.84" x2="305.90" y2="218.84" stroke="#3c3c3c" stroke-width="0.9"/>
<text transform="translate(299.60 221.34) scale(0.92 1)" font-size="8.3" fill="#262626" stroke="#333" stroke-width="0.15" text-anchor="end">0.8</text>
<line x1="302.90" y1="194.40" x2="305.90" y2="194.40" stroke="#3c3c3c" stroke-width="0.9"/>
<text transform="translate(299.60 196.90) scale(0.92 1)" font-size="8.3" fill="#262626" stroke="#333" stroke-width="0.15" text-anchor="end">1.0</text>
<line x1="315.90" y1="318.50" x2="315.90" y2="320.90" stroke="#3c3c3c" stroke-width="0.8"/>
<text transform="translate(316.20 329.90) scale(0.95 1)" font-size="8.3" fill="#262626" stroke="#333" stroke-width="0.15" text-anchor="middle">0</text>
<line x1="348.15" y1="318.50" x2="348.15" y2="320.90" stroke="#3c3c3c" stroke-width="0.8"/>
<text transform="translate(348.45 329.90) scale(0.95 1)" font-size="8.3" fill="#262626" stroke="#333" stroke-width="0.15" text-anchor="middle">10</text>
<line x1="380.40" y1="318.50" x2="380.40" y2="320.90" stroke="#3c3c3c" stroke-width="0.8"/>
<text transform="translate(380.70 329.90) scale(0.95 1)" font-size="8.3" fill="#262626" stroke="#333" stroke-width="0.15" text-anchor="middle">20</text>
<line x1="412.65" y1="318.50" x2="412.65" y2="320.90" stroke="#3c3c3c" stroke-width="0.8"/>
<text transform="translate(412.95 329.90) scale(0.95 1)" font-size="8.3" fill="#262626" stroke="#333" stroke-width="0.15" text-anchor="middle">30</text>
<line x1="444.90" y1="318.50" x2="444.90" y2="320.90" stroke="#3c3c3c" stroke-width="0.8"/>
<text transform="translate(445.20 329.90) scale(0.95 1)" font-size="8.3" fill="#262626" stroke="#333" stroke-width="0.15" text-anchor="middle">40</text>
<line x1="477.15" y1="318.50" x2="477.15" y2="320.90" stroke="#3c3c3c" stroke-width="0.8"/>
<text transform="translate(477.45 329.90) scale(0.95 1)" font-size="8.3" fill="#262626" stroke="#333" stroke-width="0.15" text-anchor="middle">50</text>
<line x1="509.40" y1="318.50" x2="509.40" y2="320.90" stroke="#3c3c3c" stroke-width="0.8"/>
<text transform="translate(509.70 329.90) scale(0.95 1)" font-size="8.3" fill="#262626" stroke="#333" stroke-width="0.15" text-anchor="middle">60</text>
<text transform="translate(408.85 343.30) scale(0.685 1)" font-size="9.5" fill="#262626" stroke="#222" stroke-width="0.35" text-anchor="middle">Relapse from HCT (months)</text>
<text transform="translate(282.70 255.20) rotate(-90) scale(0.69 1)" font-size="9.5" fill="#262626" stroke="#222" stroke-width="0.35" text-anchor="middle">Cumulative incidence</text>
<text x="276.00" y="188.40" font-size="11.5" font-weight="bold" fill="#111">D</text>
<text x="312.80" y="204.90" font-size="8" fill="#262626" stroke="#222" stroke-width="0.15">p=0.7960</text>
<line x1="426.60" y1="202.30" x2="436.90" y2="202.30" stroke="#26669a" stroke-width="1.5"/>
<line x1="426.60" y1="211.20" x2="436.90" y2="211.20" stroke="#c8233b" stroke-width="1.5"/>
<text x="440.10" y="204.50" font-size="7" fill="#262626" stroke="#222" stroke-width="0.2">CMV reactivation</text>
<text x="440.10" y="213.40" font-size="7" fill="#262626" stroke="#222" stroke-width="0.2">No CMV reactivation</text>
<g style="isolation:isolate">
<polygon points="66.0,493.6 69.9,478.0 75.8,475.8 83.0,472.2 90.0,469.0 100.0,465.0 116.0,462.7 125.0,461.5 125.0,459.2 154.0,459.2 154.0,457.0 168.0,457.0 168.0,456.5 252.0,457.0 252.0,486.2 116.0,486.2 116.0,487.7 110.0,487.7 90.1,488.9 84.2,490.0 80.6,491.2 69.9,493.6 69.0,493.6" fill="#d0dce7" style="mix-blend-mode:multiply"/>
<polygon points="60.0,493.6 63.9,485.3 69.9,469.8 74.6,462.0 81.8,457.9 87.8,455.5 99.7,453.1 109.2,451.9 118.0,451.5 118.0,449.2 125.0,448.5 154.0,448.5 154.0,444.6 168.0,444.6 168.0,443.5 210.0,443.6 210.0,442.2 222.0,442.2 222.0,441.3 242.0,441.3 242.0,440.2 252.0,440.2 252.0,459.7 242.0,459.7 242.0,460.6 222.0,460.6 222.0,461.5 210.0,461.5 210.0,462.4 168.0,462.7 168.0,464.0 154.0,464.0 154.0,466.9 125.0,466.9 125.0,468.8 116.0,468.8 116.0,469.8 100.0,469.8 100.0,471.7 90.0,471.7 84.2,472.0 81.8,475.8 74.6,477.0 69.9,484.1 66.3,492.4 64.0,493.6" fill="#f4cfd7" style="mix-blend-mode:multiply"/>
</g>
<polyline points="58.5,493.5 69.3,493.5 69.5,493.5 69.5,492.5 69.7,492.5 69.7,490.5 69.9,490.5 69.9,489.5 81.2,489.5 81.5,489.5 81.5,488.5 81.8,488.5 81.8,486.5 84.2,486.5 84.2,482.5 90.1,482.5 90.4,482.5 90.4,480.5 90.7,480.5 90.7,479.5 116.0,479.5 116.0,475.5 252.0,475.5" fill="none" stroke="#fff" stroke-opacity="0.3" stroke-width="3.6"/>
<polyline points="58.5,493.5 59.2,493.5 60.5,493.5 60.5,492.5 61.8,492.5 61.8,490.5 63.1,490.5 63.1,489.5 64.2,489.5 64.2,487.5 65.3,487.5 65.3,485.5 66.3,485.5 66.3,484.5 67.4,484.5 67.4,482.5 68.5,482.5 68.5,481.5 69.3,481.5 69.3,479.5 70.0,479.5 70.0,478.5 70.8,478.5 70.8,476.5 71.5,476.5 71.5,474.5 72.3,474.5 72.3,473.5 73.0,473.5 73.0,471.5 73.8,471.5 73.8,470.5 76.5,470.5 76.5,469.5 79.2,469.5 79.2,469.5 81.2,469.5 81.2,467.5 83.3,467.5 83.3,466.5 85.3,466.5 85.3,465.5 94.9,465.5 97.3,465.5 97.3,463.5 99.7,463.5 99.7,462.5 109.2,461.5 118.0,461.5 118.0,459.5 126.0,458.5 153.0,458.5 153.0,455.5 158.0,454.5 168.0,454.5 168.0,453.5 210.0,453.5 210.0,451.5 222.0,451.5 222.0,451.5 242.0,451.5 242.0,449.5 252.0,449.5" fill="none" stroke="#fff" stroke-opacity="0.3" stroke-width="3.6"/>
<polyline points="58.5,493.5 69.3,493.5 69.5,493.5 69.5,492.5 69.7,492.5 69.7,490.5 69.9,490.5 69.9,489.5 81.2,489.5 81.5,489.5 81.5,488.5 81.8,488.5 81.8,486.5 84.2,486.5 84.2,482.5 90.1,482.5 90.4,482.5 90.4,480.5 90.7,480.5 90.7,479.5 116.0,479.5 116.0,475.5 252.0,475.5" fill="none" stroke="#26669a" stroke-width="1.3" stroke-linejoin="miter"/>
<polyline points="58.5,493.5 59.2,493.5 60.5,493.5 60.5,492.5 61.8,492.5 61.8,490.5 63.1,490.5 63.1,489.5 64.2,489.5 64.2,487.5 65.3,487.5 65.3,485.5 66.3,485.5 66.3,484.5 67.4,484.5 67.4,482.5 68.5,482.5 68.5,481.5 69.3,481.5 69.3,479.5 70.0,479.5 70.0,478.5 70.8,478.5 70.8,476.5 71.5,476.5 71.5,474.5 72.3,474.5 72.3,473.5 73.0,473.5 73.0,471.5 73.8,471.5 73.8,470.5 76.5,470.5 76.5,469.5 79.2,469.5 79.2,469.5 81.2,469.5 81.2,467.5 83.3,467.5 83.3,466.5 85.3,466.5 85.3,465.5 94.9,465.5 97.3,465.5 97.3,463.5 99.7,463.5 99.7,462.5 109.2,461.5 118.0,461.5 118.0,459.5 126.0,458.5 153.0,458.5 153.0,455.5 158.0,454.5 168.0,454.5 168.0,453.5 210.0,453.5 210.0,451.5 222.0,451.5 222.0,451.5 242.0,451.5 242.0,449.5 252.0,449.5" fill="none" stroke="#c8233b" stroke-width="1.25" stroke-linejoin="miter"/>
<path d="M48.70 368.40 V494.00 H254.20" fill="none" stroke="#3c3c3c" stroke-width="1.6"/>
<path d="M48.70 368.40 H254.20 V494.00" fill="none" stroke="#3c3c3c" stroke-width="1.2"/>
<line x1="45.50" y1="492.60" x2="48.50" y2="492.60" stroke="#3c3c3c" stroke-width="0.9"/>
<text transform="translate(42.20 495.10) scale(0.92 1)" font-size="8.3" fill="#262626" stroke="#333" stroke-width="0.15" text-anchor="end">0.0</text>
<line x1="45.50" y1="468.16" x2="48.50" y2="468.16" stroke="#3c3c3c" stroke-width="0.9"/>
<text transform="translate(42.20 470.66) scale(0.92 1)" font-size="8.3" fill="#262626" stroke="#333" stroke-width="0.15" text-anchor="end">0.2</text>
<line x1="45.50" y1="443.72" x2="48.50" y2="443.72" stroke="#3c3c3c" stroke-width="0.9"/>
<text transform="translate(42.20 446.22) scale(0.92 1)" font-size="8.3" fill="#262626" stroke="#333" stroke-width="0.15" text-anchor="end">0.4</text>
<line x1="45.50" y1="419.28" x2="48.50" y2="419.28" stroke="#3c3c3c" stroke-width="0.9"/>
<text transform="translate(42.20 421.78) scale(0.92 1)" font-size="8.3" fill="#262626" stroke="#333" stroke-width="0.15" text-anchor="end">0.6</text>
<line x1="45.50" y1="394.84" x2="48.50" y2="394.84" stroke="#3c3c3c" stroke-width="0.9"/>
<text transform="translate(42.20 397.34) scale(0.92 1)" font-size="8.3" fill="#262626" stroke="#333" stroke-width="0.15" text-anchor="end">0.8</text>
<line x1="45.50" y1="370.40" x2="48.50" y2="370.40" stroke="#3c3c3c" stroke-width="0.9"/>
<text transform="translate(42.20 372.90) scale(0.92 1)" font-size="8.3" fill="#262626" stroke="#333" stroke-width="0.15" text-anchor="end">1.0</text>
<line x1="58.50" y1="494.50" x2="58.50" y2="496.90" stroke="#3c3c3c" stroke-width="0.8"/>
<text transform="translate(58.80 505.90) scale(0.95 1)" font-size="8.3" fill="#262626" stroke="#333" stroke-width="0.15" text-anchor="middle">0</text>
<line x1="90.75" y1="494.50" x2="90.75" y2="496.90" stroke="#3c3c3c" stroke-width="0.8"/>
<text transform="translate(91.05 505.90) scale(0.95 1)" font-size="8.3" fill="#262626" stroke="#333" stroke-width="0.15" text-anchor="middle">10</text>
<line x1="123.00" y1="494.50" x2="123.00" y2="496.90" stroke="#3c3c3c" stroke-width="0.8"/>
<text transform="translate(123.30 505.90) scale(0.95 1)" font-size="8.3" fill="#262626" stroke="#333" stroke-width="0.15" text-anchor="middle">20</text>
<line x1="155.25" y1="494.50" x2="155.25" y2="496.90" stroke="#3c3c3c" stroke-width="0.8"/>
<text transform="translate(155.55 505.90) scale(0.95 1)" font-size="8.3" fill="#262626" stroke="#333" stroke-width="0.15" text-anchor="middle">30</text>
<line x1="187.50" y1="494.50" x2="187.50" y2="496.90" stroke="#3c3c3c" stroke-width="0.8"/>
<text transform="translate(187.80 505.90) scale(0.95 1)" font-size="8.3" fill="#262626" stroke="#333" stroke-width="0.15" text-anchor="middle">40</text>
<line x1="219.75" y1="494.50" x2="219.75" y2="496.90" stroke="#3c3c3c" stroke-width="0.8"/>
<text transform="translate(220.05 505.90) scale(0.95 1)" font-size="8.3" fill="#262626" stroke="#333" stroke-width="0.15" text-anchor="middle">50</text>
<line x1="252.00" y1="494.50" x2="252.00" y2="496.90" stroke="#3c3c3c" stroke-width="0.8"/>
<text transform="translate(252.30 505.90) scale(0.95 1)" font-size="8.3" fill="#262626" stroke="#333" stroke-width="0.15" text-anchor="middle">60</text>
<text transform="translate(151.45 519.30) scale(0.685 1)" font-size="9.5" fill="#262626" stroke="#222" stroke-width="0.35" text-anchor="middle">Relapse from HCT (months)</text>
<text transform="translate(26.30 431.20) rotate(-90) scale(0.69 1)" font-size="9.5" fill="#262626" stroke="#222" stroke-width="0.35" text-anchor="middle">Cumulative incidence</text>
<text transform="translate(15.20 431.20) rotate(-90)" font-size="9" fill="#262626" stroke="#333" stroke-width="0.2" text-anchor="middle">CR 1</text>
<text x="6.90" y="362.80" font-size="11.5" font-weight="bold" fill="#111">E</text>
<text x="55.40" y="380.90" font-size="8" fill="#262626" stroke="#222" stroke-width="0.15">p=0.0169</text>
<line x1="170.20" y1="378.30" x2="180.50" y2="378.30" stroke="#26669a" stroke-width="1.5"/>
<line x1="170.20" y1="387.20" x2="180.50" y2="387.20" stroke="#c8233b" stroke-width="1.5"/>
<text x="183.70" y="380.50" font-size="7" fill="#262626" stroke="#222" stroke-width="0.2">CMV reactivation</text>
<text x="183.70" y="389.40" font-size="7" fill="#262626" stroke="#222" stroke-width="0.2">No CMV reactivation</text>
<g style="isolation:isolate">
<polygon points="318.0,493.3 320.3,480.4 326.8,468.8 330.7,457.1 334.5,448.1 337.1,445.5 348.8,439.7 356.5,437.8 366.8,434.5 389.0,434.2 389.0,432.0 399.0,432.0 399.0,429.2 486.0,429.1 486.0,425.1 509.3,425.1 509.3,457.4 485.0,457.4 485.0,458.7 444.0,459.0 398.0,459.2 398.0,463.0 368.0,463.0 364.3,467.5 352.0,467.5 348.8,471.3 333.3,471.3 326.8,485.0 321.0,493.3" fill="#d0dce7" style="mix-blend-mode:multiply"/>
<polygon points="319.0,493.3 326.0,482.0 329.4,473.9 333.3,468.1 348.8,468.1 353.0,463.0 364.3,463.0 368.0,459.7 374.0,459.7 374.0,456.2 382.0,456.2 382.0,453.8 414.0,453.8 414.0,448.9 469.0,449.0 469.0,446.1 509.3,446.1 509.3,471.6 469.0,471.6 469.0,472.6 414.0,473.8 414.0,476.6 382.0,476.6 382.0,477.7 374.0,477.7 374.0,479.0 368.0,479.5 352.6,481.0 348.8,484.3 335.8,484.3 329.4,488.1 322.9,493.3" fill="#f4cfd7" style="mix-blend-mode:multiply"/>
</g>
<polyline points="315.8,493.5 319.7,493.5 319.7,488.5 322.9,488.5 323.2,488.5 323.2,487.5 323.5,487.5 323.5,485.5 323.9,485.5 323.9,483.5 324.2,483.5 324.2,482.5 325.5,482.5 325.5,480.5 326.8,480.5 326.8,479.5 327.4,479.5 327.4,477.5 328.1,477.5 328.1,475.5 328.8,475.5 328.8,474.5 329.4,474.5 329.4,472.5 330.3,472.5 330.3,470.5 331.1,470.5 331.1,469.5 332.0,469.5 332.0,467.5 332.5,467.5 332.5,466.5 332.9,466.5 332.9,464.5 333.4,464.5 333.4,463.5 333.9,463.5 333.9,461.5 335.5,461.5 335.5,460.5 337.1,460.5 337.1,459.5 339.7,459.5 339.7,457.5 347.5,457.5 348.1,457.5 348.1,455.5 348.8,455.5 348.8,453.5 356.5,453.5 357.8,453.5 357.8,451.5 365.6,450.5 366.8,450.5 366.8,449.5 389.0,448.5 389.0,446.5 398.0,446.5 398.0,444.5 485.0,443.5 485.0,440.5 509.3,440.5" fill="none" stroke="#fff" stroke-opacity="0.3" stroke-width="3.6"/>
<polyline points="315.8,493.5 321.6,493.5 322.9,493.5 322.9,491.5 324.2,491.5 324.2,489.5 325.5,489.5 325.5,487.5 326.8,487.5 326.8,485.5 328.1,485.5 328.1,483.5 329.4,483.5 329.4,482.5 332.0,482.5 332.0,480.5 333.3,480.5 333.3,478.5 348.8,478.5 350.5,478.5 350.5,476.5 352.2,476.5 352.2,475.5 353.9,475.5 353.9,473.5 356.0,473.5 356.0,473.5 358.1,473.5 358.1,473.5 360.1,473.5 360.1,473.5 362.2,473.5 362.2,472.5 364.3,472.5 364.3,472.5 368.0,471.5 370.0,471.5 370.0,470.5 372.0,470.5 372.0,469.5 375.0,469.5 375.0,467.5 377.3,467.5 377.3,467.5 379.7,467.5 379.7,466.5 382.0,466.5 382.0,465.5 414.0,465.5 414.0,461.5 469.0,461.5 469.0,459.5 509.3,459.5" fill="none" stroke="#fff" stroke-opacity="0.3" stroke-width="3.6"/>
<polyline points="315.8,493.5 319.7,493.5 319.7,488.5 322.9,488.5 323.2,488.5 323.2,487.5 323.5,487.5 323.5,485.5 323.9,485.5 323.9,483.5 324.2,483.5 324.2,482.5 325.5,482.5 325.5,480.5 326.8,480.5 326.8,479.5 327.4,479.5 327.4,477.5 328.1,477.5 328.1,475.5 328.8,475.5 328.8,474.5 329.4,474.5 329.4,472.5 330.3,472.5 330.3,470.5 331.1,470.5 331.1,469.5 332.0,469.5 332.0,467.5 332.5,467.5 332.5,466.5 332.9,466.5 332.9,464.5 333.4,464.5 333.4,463.5 333.9,463.5 333.9,461.5 335.5,461.5 335.5,460.5 337.1,460.5 337.1,459.5 339.7,459.5 339.7,457.5 347.5,457.5 348.1,457.5 348.1,455.5 348.8,455.5 348.8,453.5 356.5,453.5 357.8,453.5 357.8,451.5 365.6,450.5 366.8,450.5 366.8,449.5 389.0,448.5 389.0,446.5 398.0,446.5 398.0,444.5 485.0,443.5 485.0,440.5 509.3,440.5" fill="none" stroke="#26669a" stroke-width="1.3" stroke-linejoin="miter"/>
<polyline points="315.8,493.5 321.6,493.5 322.9,493.5 322.9,491.5 324.2,491.5 324.2,489.5 325.5,489.5 325.5,487.5 326.8,487.5 326.8,485.5 328.1,485.5 328.1,483.5 329.4,483.5 329.4,482.5 332.0,482.5 332.0,480.5 333.3,480.5 333.3,478.5 348.8,478.5 350.5,478.5 350.5,476.5 352.2,476.5 352.2,475.5 353.9,475.5 353.9,473.5 356.0,473.5 356.0,473.5 358.1,473.5 358.1,473.5 360.1,473.5 360.1,473.5 362.2,473.5 362.2,472.5 364.3,472.5 364.3,472.5 368.0,471.5 370.0,471.5 370.0,470.5 372.0,470.5 372.0,469.5 375.0,469.5 375.0,467.5 377.3,467.5 377.3,467.5 379.7,467.5 379.7,466.5 382.0,466.5 382.0,465.5 414.0,465.5 414.0,461.5 469.0,461.5 469.0,459.5 509.3,459.5" fill="none" stroke="#c8233b" stroke-width="1.25" stroke-linejoin="miter"/>
<path d="M306.10 368.40 V494.00 H511.60" fill="none" stroke="#3c3c3c" stroke-width="1.6"/>
<path d="M306.10 368.40 H511.60 V494.00" fill="none" stroke="#3c3c3c" stroke-width="1.2"/>
<line x1="302.90" y1="492.60" x2="305.90" y2="492.60" stroke="#3c3c3c" stroke-width="0.9"/>
<text transform="translate(299.60 495.10) scale(0.92 1)" font-size="8.3" fill="#262626" stroke="#333" stroke-width="0.15" text-anchor="end">0.0</text>
<line x1="302.90" y1="468.16" x2="305.90" y2="468.16" stroke="#3c3c3c" stroke-width="0.9"/>
<text transform="translate(299.60 470.66) scale(0.92 1)" font-size="8.3" fill="#262626" stroke="#333" stroke-width="0.15" text-anchor="end">0.2</text>
<line x1="302.90" y1="443.72" x2="305.90" y2="443.72" stroke="#3c3c3c" stroke-width="0.9"/>
<text transform="translate(299.60 446.22) scale(0.92 1)" font-size="8.3" fill="#262626" stroke="#333" stroke-width="0.15" text-anchor="end">0.4</text>
<line x1="302.90" y1="419.28" x2="305.90" y2="419.28" stroke="#3c3c3c" stroke-width="0.9"/>
<text transform="translate(299.60 421.78) scale(0.92 1)" font-size="8.3" fill="#262626" stroke="#333" stroke-width="0.15" text-anchor="end">0.6</text>
<line x1="302.90" y1="394.84" x2="305.90" y2="394.84" stroke="#3c3c3c" stroke-width="0.9"/>
<text transform="translate(299.60 397.34) scale(0.92 1)" font-size="8.3" fill="#262626" stroke="#333" stroke-width="0.15" text-anchor="end">0.8</text>
<line x1="302.90" y1="370.40" x2="305.90" y2="370.40" stroke="#3c3c3c" stroke-width="0.9"/>
<text transform="translate(299.60 372.90) scale(0.92 1)" font-size="8.3" fill="#262626" stroke="#333" stroke-width="0.15" text-anchor="end">1.0</text>
<line x1="315.90" y1="494.50" x2="315.90" y2="496.90" stroke="#3c3c3c" stroke-width="0.8"/>
<text transform="translate(316.20 505.90) scale(0.95 1)" font-size="8.3" fill="#262626" stroke="#333" stroke-width="0.15" text-anchor="middle">0</text>
<line x1="348.15" y1="494.50" x2="348.15" y2="496.90" stroke="#3c3c3c" stroke-width="0.8"/>
<text transform="translate(348.45 505.90) scale(0.95 1)" font-size="8.3" fill="#262626" stroke="#333" stroke-width="0.15" text-anchor="middle">10</text>
<line x1="380.40" y1="494.50" x2="380.40" y2="496.90" stroke="#3c3c3c" stroke-width="0.8"/>
<text transform="translate(380.70 505.90) scale(0.95 1)" font-size="8.3" fill="#262626" stroke="#333" stroke-width="0.15" text-anchor="middle">20</text>
<line x1="412.65" y1="494.50" x2="412.65" y2="496.90" stroke="#3c3c3c" stroke-width="0.8"/>
<text transform="translate(412.95 505.90) scale(0.95 1)" font-size="8.3" fill="#262626" stroke="#333" stroke-width="0.15" text-anchor="middle">30</text>
<line x1="444.90" y1="494.50" x2="444.90" y2="496.90" stroke="#3c3c3c" stroke-width="0.8"/>
<text transform="translate(445.20 505.90) scale(0.95 1)" font-size="8.3" fill="#262626" stroke="#333" stroke-width="0.15" text-anchor="middle">40</text>
<line x1="477.15" y1="494.50" x2="477.15" y2="496.90" stroke="#3c3c3c" stroke-width="0.8"/>
<text transform="translate(477.45 505.90) scale(0.95 1)" font-size="8.3" fill="#262626" stroke="#333" stroke-width="0.15" text-anchor="middle">50</text>
<line x1="509.40" y1="494.50" x2="509.40" y2="496.90" stroke="#3c3c3c" stroke-width="0.8"/>
<text transform="translate(509.70 505.90) scale(0.95 1)" font-size="8.3" fill="#262626" stroke="#333" stroke-width="0.15" text-anchor="middle">60</text>
<text transform="translate(408.85 519.30) scale(0.685 1)" font-size="9.5" fill="#262626" stroke="#222" stroke-width="0.35" text-anchor="middle">Relapse from HCT (months)</text>
<text transform="translate(282.70 431.20) rotate(-90) scale(0.69 1)" font-size="9.5" fill="#262626" stroke="#222" stroke-width="0.35" text-anchor="middle">Cumulative incidence</text>
<text x="276.00" y="362.80" font-size="11.5" font-weight="bold" fill="#111">F</text>
<text x="312.80" y="380.90" font-size="8" fill="#262626" stroke="#222" stroke-width="0.15">p=0.0428</text>
<line x1="426.60" y1="378.30" x2="436.90" y2="378.30" stroke="#26669a" stroke-width="1.5"/>
<line x1="426.60" y1="387.20" x2="436.90" y2="387.20" stroke="#c8233b" stroke-width="1.5"/>
<text x="440.10" y="380.50" font-size="7" fill="#262626" stroke="#222" stroke-width="0.2">CMV reactivation</text>
<text x="440.10" y="389.40" font-size="7" fill="#262626" stroke="#222" stroke-width="0.2">No CMV reactivation</text>
<text x="151.5" y="15.9" font-size="9.4" fill="#262626" stroke="#222" stroke-width="0.15" text-anchor="middle">No ATG</text>
<text x="408.7" y="15.9" font-size="9.4" fill="#262626" stroke="#222" stroke-width="0.15" text-anchor="middle">ATG</text>
<path d="M0 0.6H520M0.6 0V526M0 525.4H520" fill="none" stroke="#111" stroke-width="1.2"/>
<path d="M518.9 0V526" fill="none" stroke="#111" stroke-width="1.6"/>
</svg></body></html>
